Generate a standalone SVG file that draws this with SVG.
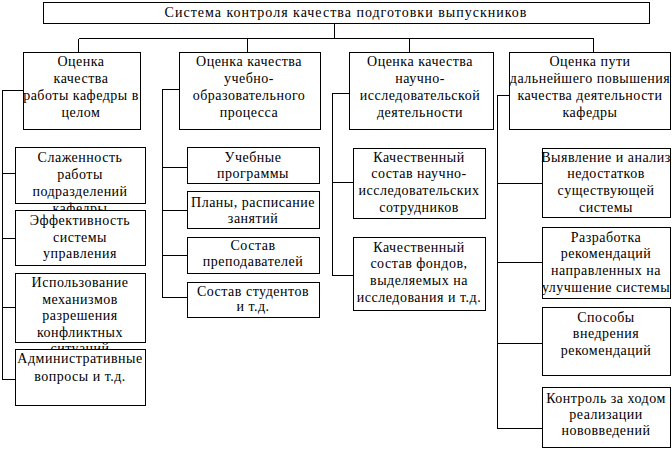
<svg xmlns="http://www.w3.org/2000/svg" width="672" height="458" viewBox="0 0 672 458">
<style>
rect{fill:#fff;stroke:#000;stroke-width:1;shape-rendering:crispEdges}
text{font-family:"Liberation Serif","Times New Roman",serif;font-size:14px;letter-spacing:0.5px;fill:#000;text-anchor:middle}
#root text{letter-spacing:1px}
#connectors path{fill:none;stroke:#000;stroke-width:1;shape-rendering:crispEdges}
</style>
<rect x="0" y="0" width="672" height="458" style="stroke:none"/>
<g id="connectors">
<path d="M334.5 23V38.5M78.5 38.5H593.5M78.5 38.5V52M247.5 38.5V52M409.5 38.5V52M593.5 38.5V52"/>
<path d="M23 90.5H2.5V379.5M2.5 173.5H15M2.5 238.5H15M2.5 307.5H15M2.5 379.5H15"/>
<path d="M179 89.5H162.5V297.5M162.5 167.5H187M162.5 210.5H187M162.5 255.5H187M162.5 297.5H187"/>
<path d="M349 93.5H332.5V275.5M332.5 182.5H353M332.5 275.5H353"/>
<path d="M509 95.5H497.5V428.5M497.5 183.5H542M497.5 262.5H542M497.5 343.5H542M497.5 428.5H542"/>
</g>
<g id="root"><rect x="43.5" y="2.5" width="606" height="21"/><text x="346" y="17">Система контроля качества подготовки выпускников</text></g>
<g id="n1"><rect x="23.5" y="52.5" width="117" height="77"/><text x="81"><tspan x="81" y="66">Оценка</tspan><tspan x="81" y="83">качества</tspan><tspan x="81" y="100">работы кафедры в</tspan><tspan x="81" y="117">целом</tspan></text></g>
<g id="n2"><rect x="179.5" y="52.5" width="141" height="77"/><text><tspan x="249" y="66">Оценка качества</tspan><tspan x="249" y="83">учебно-</tspan><tspan x="249" y="100">образовательного</tspan><tspan x="249" y="117">процесса</tspan></text></g>
<g id="n3"><rect x="349.5" y="52.5" width="144" height="77"/><text><tspan x="420" y="66">Оценка качества</tspan><tspan x="420" y="83">научно-</tspan><tspan x="420" y="100">исследовательской</tspan><tspan x="420" y="117">деятельности</tspan></text></g>
<g id="n4"><rect x="509.5" y="52.5" width="161" height="77"/><text><tspan x="590" y="66">Оценка пути</tspan><tspan x="590" y="83">дальнейшего повышения</tspan><tspan x="590" y="100">качества деятельности</tspan><tspan x="590" y="117">кафедры</tspan></text></g>
<g id="n1a"><rect x="15.5" y="147.5" width="130" height="56"/><text><tspan x="80" y="162">Слаженность</tspan><tspan x="80" y="179">работы</tspan><tspan x="80" y="196">подразделений</tspan><tspan x="80" y="213">кафедры</tspan></text></g>
<g id="n1b"><rect x="15.5" y="210.5" width="130" height="55"/><text><tspan x="80" y="225">Эффективность</tspan><tspan x="80" y="242">системы</tspan><tspan x="80" y="258">управления</tspan></text></g>
<g id="n1c"><rect x="15.5" y="273.5" width="130" height="69"/><text><tspan x="80" y="287">Использование</tspan><tspan x="80" y="304">механизмов</tspan><tspan x="80" y="320">разрешения</tspan><tspan x="80" y="337">конфликтных</tspan><tspan x="80" y="353">ситуаций</tspan></text></g>
<g id="n1d"><rect x="15.5" y="349.5" width="130" height="56"/><text><tspan x="80" y="363">Административные</tspan><tspan x="80" y="381">вопросы и т.д.</tspan></text></g>
<g id="n2a"><rect x="187.5" y="147.5" width="132" height="36"/><text><tspan x="253" y="162">Учебные</tspan><tspan x="253" y="178">программы</tspan></text></g>
<g id="n2b"><rect x="187.5" y="191.5" width="132" height="37"/><text><tspan x="253" y="207">Планы, расписание</tspan><tspan x="253" y="223">занятий</tspan></text></g>
<g id="n2c"><rect x="187.5" y="237.5" width="132" height="36"/><text><tspan x="253" y="250">Состав</tspan><tspan x="253" y="266">преподавателей</tspan></text></g>
<g id="n2d"><rect x="187.5" y="282.5" width="132" height="35"/><text><tspan x="253" y="296">Состав студентов</tspan><tspan x="253" y="311">и т.д.</tspan></text></g>
<g id="n3a"><rect x="353.5" y="148.5" width="132" height="70"/><text><tspan x="419" y="162">Качественный</tspan><tspan x="419" y="178">состав научно-</tspan><tspan x="419" y="195">исследовательских</tspan><tspan x="419" y="212">сотрудников</tspan></text></g>
<g id="n3b"><rect x="353.5" y="237.5" width="132" height="73"/><text><tspan x="419" y="252">Качественный</tspan><tspan x="419" y="268">состав фондов,</tspan><tspan x="419" y="285">выделяемых на</tspan><tspan x="419" y="302">исследования и т.д.</tspan></text></g>
<g id="n4a"><rect x="542.5" y="148.5" width="128" height="69"/><text><tspan x="606" y="162">Выявление и анализ</tspan><tspan x="606" y="178">недостатков</tspan><tspan x="606" y="195">существующей</tspan><tspan x="606" y="212">системы</tspan></text></g>
<g id="n4b"><rect x="542.5" y="227.5" width="128" height="71"/><text><tspan x="606" y="242">Разработка</tspan><tspan x="606" y="258">рекомендаций</tspan><tspan x="606" y="275">направленных на</tspan><tspan x="606" y="292">улучшение системы</tspan></text></g>
<g id="n4c"><rect x="542.5" y="307.5" width="128" height="68"/><text><tspan x="606" y="322">Способы</tspan><tspan x="606" y="338">внедрения</tspan><tspan x="606" y="355">рекомендаций</tspan></text></g>
<g id="n4d"><rect x="542.5" y="387.5" width="128" height="60"/><text><tspan x="606" y="403">Контроль за ходом</tspan><tspan x="606" y="419">реализации</tspan><tspan x="606" y="435">нововведений</tspan></text></g>
</svg>
